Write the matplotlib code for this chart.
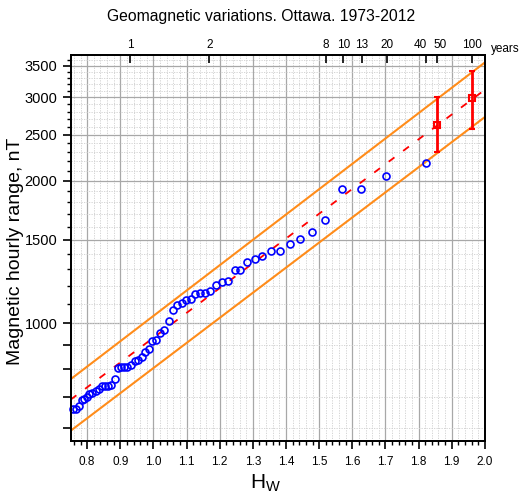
import numpy as np
import matplotlib
matplotlib.use('Agg')
import matplotlib.pyplot as plt
import matplotlib.transforms as mtransforms
from matplotlib.ticker import FixedLocator, FixedFormatter, NullFormatter

plt.rcParams['font.family'] = ['Liberation Sans', 'DejaVu Sans']
plt.rcParams['mathtext.fontset'] = 'custom'
plt.rcParams['mathtext.rm'] = 'Liberation Sans'
plt.rcParams['mathtext.it'] = 'Liberation Sans'

# observed annual maxima (Hw, hourly range in nT)
hw = [0.756, 0.766, 0.776, 0.783, 0.791, 0.800, 0.807, 0.816, 0.826, 0.836,
      0.846, 0.854, 0.863, 0.873, 0.884, 0.893, 0.903, 0.912, 0.921, 0.933,
      0.943, 0.953, 0.964, 0.975, 0.986, 0.997, 1.008, 1.021, 1.033, 1.046,
      1.059, 1.071, 1.085, 1.098, 1.112, 1.126, 1.141, 1.156, 1.172, 1.190,
      1.207, 1.224, 1.245, 1.262, 1.283, 1.305, 1.328, 1.354, 1.382, 1.412,
      1.443, 1.479, 1.519, 1.568, 1.625, 1.702, 1.822]
hourly_range = [658, 659, 668, 688, 692, 699, 709, 711, 719, 725,
                737, 738, 737, 742, 763, 806, 807, 807, 809, 816,
                832, 836, 850, 871, 881, 916, 922, 954, 969, 1011,
                1069, 1095, 1103, 1120, 1128, 1152, 1157, 1161, 1172, 1205,
                1221, 1230, 1296, 1296, 1348, 1367, 1390, 1420, 1422, 1473,
                1506, 1561, 1657, 1920, 1920, 2046, 2179]

# fitted line and confidence band, read at the axis ends
line_hw = [0.75, 2.0]
fit_vals = [690, 3114]
upper_vals = [762, 3556]
lower_vals = [593, 2727]

# return levels with confidence limits (50 and 100 years)
rl_hw = [1.856, 1.960]
rl_val = [2626, 2985]
rl_lo = [2298, 2578]
rl_hi = [3000, 3420]

# return period axis on top
period_hw = [0.930, 1.169, 1.5205, 1.5727, 1.628, 1.7035, 1.822, 1.856, 1.960]
period_labels = ['1', '2', '8', '10', '13', '20', '40', '50', '100']

y_labeled = [1000, 1500, 2000, 2500, 3000, 3500]
y_unlabeled = [600, 700, 800, 900]

fig = plt.figure(figsize=(5.23, 4.99), dpi=100)
ax = fig.add_axes([0.135, 0.116, 0.792, 0.774])
ax.set_yscale('log')
ax.set_xlim(0.75, 2.0)
ax.set_ylim(564, 3690)

# grid
grid_c = '#a8a8a8'
dot_c = '#cfcfcf'
for v in np.arange(0.8, 2.0, 0.1):
    ax.axvline(v, color=grid_c, lw=0.9, zorder=0)
for v in np.arange(0.76, 2.0, 0.02):
    if abs(round(v * 10) - v * 10) > 1e-6:
        ax.axvline(v, color=dot_c, lw=0.6, ls=(0, (1.5, 1.5)), zorder=0)
for v in y_labeled:
    ax.axhline(v, color=grid_c, lw=0.9, zorder=0)
y_minor = [v for v in range(600, 3700, 100) if v not in y_labeled]
y_dotted = sorted(set(y_minor + [v + 50 for v in range(550, 1000, 100)]))
for v in y_dotted:
    ax.axhline(v, color=dot_c, lw=0.6, ls=(0, (1.5, 1.5)), zorder=0)

# band, fit, data
ax.plot(line_hw, upper_vals, color='#ff8c1a', lw=1.5, zorder=2)
ax.plot(line_hw, lower_vals, color='#ff8c1a', lw=1.5, zorder=2)
ax.plot(line_hw, fit_vals, color='red', lw=1.3, ls=(0, (4, 6)), zorder=2)
ax.plot(hw, hourly_range, 'o', mfc='none', mec='blue', ms=5, mew=1.2,
        zorder=3, clip_on=False)
yerr = [np.array(rl_val) - np.array(rl_lo), np.array(rl_hi) - np.array(rl_val)]
ax.errorbar(rl_hw, rl_val, yerr=yerr, fmt='s', color='red', mfc='none',
            ms=4.5, mew=1.5, elinewidth=2, capsize=2.2, capthick=2, zorder=4)

# y axis
ax.yaxis.set_major_locator(FixedLocator(y_unlabeled + y_labeled))
ax.yaxis.set_major_formatter(FixedFormatter([''] * len(y_unlabeled) +
                                            [str(v) for v in y_labeled]))
ax.yaxis.set_minor_locator(FixedLocator(y_minor))
ax.yaxis.set_minor_formatter(NullFormatter())
ax.tick_params(axis='y', which='major', direction='out', length=6, width=1.2,
               labelsize=10.5)
ax.tick_params(axis='y', which='minor', direction='out', length=3, width=1)

# x axis
ax.xaxis.set_major_locator(FixedLocator(np.round(np.arange(0.8, 2.01, 0.1), 1)))
ax.xaxis.set_major_formatter(FixedFormatter(
    ['%.1f' % v for v in np.arange(0.8, 2.01, 0.1)]))
ax.xaxis.set_minor_locator(FixedLocator(np.arange(0.76, 2.0, 0.02)))
ax.tick_params(axis='x', which='major', direction='out', length=6, width=1.2,
               labelsize=8.5, pad=5)
ax.tick_params(axis='x', which='minor', direction='out', length=3, width=1)

for s in ax.spines.values():
    s.set_linewidth(1.3)

ax.set_xlabel(r'H$_\mathrm{W}$', fontsize=15)
ax.xaxis.set_label_coords(0.471, -0.082)
ax.set_ylabel('Magnetic hourly range, nT', fontsize=14)
ax.yaxis.set_label_coords(-0.112, 0.491)

# return period axis
ax2 = ax.twiny()
ax2.set_xlim(ax.get_xlim())
ax2.set_xticks(period_hw)
ax2.set_xticklabels(period_labels)
ax2.tick_params(axis='x', direction='in', length=6, width=1.2, labelsize=8.5,
                pad=3)
for lab in ax2.get_xticklabels():
    if lab.get_text() == '40':
        lab.set_transform(lab.get_transform() +
                          mtransforms.ScaledTranslation(-4 / 72, 0,
                                                        fig.dpi_scale_trans))
    elif lab.get_text() == '50':
        lab.set_transform(lab.get_transform() +
                          mtransforms.ScaledTranslation(2 / 72, 0,
                                                        fig.dpi_scale_trans))
ax2.text(1.05, 1.0, 'years', transform=ax2.transAxes, fontsize=8.5,
         ha='center', va='bottom')
for s in ax2.spines.values():
    s.set_linewidth(1.3)

fig.suptitle('Geomagnetic variations. Ottawa. 1973-2012', fontsize=11.3,
             x=0.5, y=0.982, va='top')

fig.savefig('out.png', dpi=100)
